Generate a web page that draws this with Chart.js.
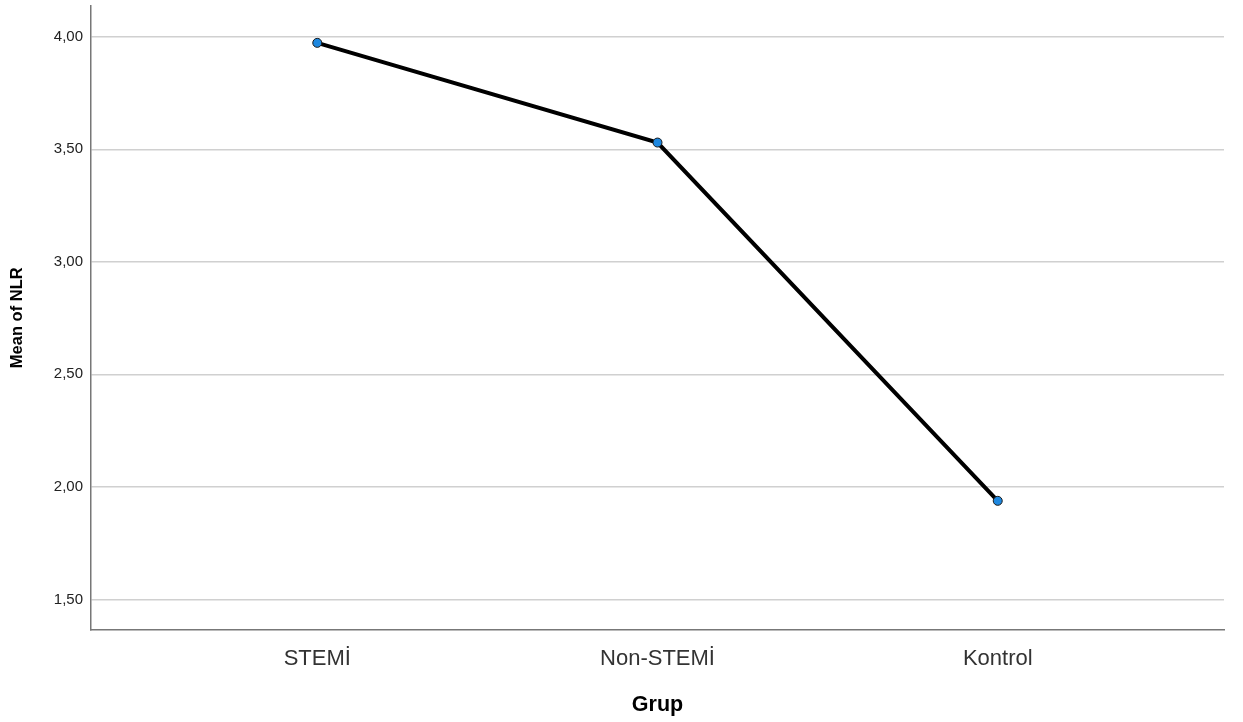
<!DOCTYPE html>
<html>
<head>
<meta charset="utf-8">
<script src="https://cdn.jsdelivr.net/npm/chart.js@4"></script>
<style>
  html, body { margin: 0; padding: 0; background: #fff; }
  #wrap { width: 1243px; height: 722px; }
</style>
</head>
<body>
<div id="wrap"><canvas id="myChart"></canvas></div>
<script>
const groups = ['STEMİ', 'Non-STEMİ', 'Kontrol'];
const meanNLR = [3.973, 3.530, 1.938];
const yTicks = [1.5, 2.0, 2.5, 3.0, 3.5, 4.0];

const points = groups.map((g, i) => ({ x: i, y: meanNLR[i] }));

new Chart(document.getElementById('myChart'), {
  type: 'line',
  data: {
    datasets: [{
      label: 'Mean of NLR',
      data: points,
      borderColor: '#000',
      borderWidth: 4,
      pointRadius: 4.5,
      pointBorderWidth: 1,
      pointBackgroundColor: '#1e88e0',
      pointBorderColor: '#1a1a1a',
      tension: 0
    }]
  },
  options: {
    responsive: true,
    maintainAspectRatio: false,
    animation: false,
    layout: { padding: { top: 1, right: 19, left: 0, bottom: 0 } },
    plugins: { legend: { display: false }, tooltip: { enabled: false } },
    scales: {
      x: {
        type: 'linear',
        min: -0.665,
        max: 2.665,
        afterBuildTicks: (s) => { s.ticks = groups.map((g, i) => ({ value: i })); },
        afterFit: (s) => { s.height = 92; s.paddingLeft = 0; s.paddingRight = 0; },
        grid: { display: false, drawTicks: false },
        border: { color: '#777', width: 1.5 },
        ticks: {
          callback: (v) => groups[v],
          color: '#333',
          padding: 16,
          font: { family: 'Liberation Sans', size: 22 }
        },
        title: {
          display: true,
          text: 'Grup',
          color: '#000',
          padding: { top: 0, bottom: 4 },
          font: { family: 'Liberation Sans', size: 21.5, weight: 'bold' }
        }
      },
      y: {
        min: 1.364,
        max: 4.139,
        afterBuildTicks: (s) => { s.ticks = yTicks.map(v => ({ value: v })); },
        afterFit: (s) => { s.width = 91; s.paddingTop = 0; s.paddingBottom = 0; },
        grid: { color: '#d0d0d0', lineWidth: 1.5, drawTicks: false },
        border: { color: '#777', width: 1.5 },
        ticks: {
          callback: (v) => v.toFixed(2).replace('.', ','),
          color: '#222',
          padding: 8,
          font: { family: 'Liberation Sans', size: 15 }
        },
        title: {
          display: true,
          text: 'Mean of NLR',
          color: '#000',
          padding: { bottom: 0, top: 8 },
          font: { family: 'Liberation Sans', size: 16.5, weight: 'bold' }
        }
      }
    }
  }
});
</script>
</body>
</html>
